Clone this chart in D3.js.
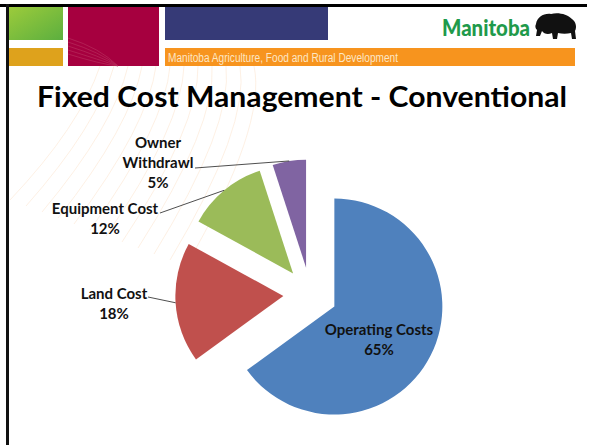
<!DOCTYPE html>
<html><head><meta charset="utf-8">
<script src="https://cdn.jsdelivr.net/npm/d3@7"></script>
<style>html,body{margin:0;padding:0;background:#fff;overflow:hidden}svg{display:block}</style>
</head><body>
<svg id="c" width="592" height="445"></svg>
<script>
const categories = ["Operating Costs", "Land Cost", "Equipment Cost", "Owner Withdrawl"];
const values = [65, 18, 12, 5];
const valueLabels = ["65%", "18%", "12%", "5%"];
const colors = ["#4f81bd", "#c0504d", "#9bbb59", "#8064a2"];

const svg = d3.select("#c");
const W = 592, H = 445;

// ---- background decoration (faint fan curves) ----
const deco = svg.append("g").attr("fill","none").attr("stroke","#fce8d6").attr("stroke-width",0.9);
for (let i = 0; i < 12; i++) {
  const sx = 100 + i * 14, sy = 66;
  const ex = 10 + i * 16, ey = 140 + i * 6;
  deco.append("path").attr("d", `M${sx},${sy} Q${sx - 20 + i*3},${sy + 60} ${ex},${ey + 60}`).attr("opacity",0.75);
}

// ---- header ----
const hdr = svg.append("g");
const gg = svg.append("defs").append("linearGradient").attr("id","gr").attr("x1","0").attr("x2","1").attr("y1","0").attr("y2","1");
gg.append("stop").attr("offset","0").attr("stop-color","#9ccb3b");
gg.append("stop").attr("offset","1").attr("stop-color","#5caf3f");
hdr.append("rect").attr("x",9).attr("y",7).attr("width",54).attr("height",33).attr("fill","url(#gr)");
hdr.append("rect").attr("x",9).attr("y",48).attr("width",54).attr("height",18).attr("fill","#dea21c");
hdr.append("rect").attr("x",68).attr("y",7).attr("width",91).attr("height",59).attr("fill","#a6003f");
const st = hdr.append("g").attr("stroke","#c0406a").attr("stroke-width",0.8).attr("fill","none").attr("opacity",0.6);
for (let i = 0; i < 5; i++) st.append("path").attr("d", `M68,${38 + i*4} Q100,${48 + i*4} 118,66`);
hdr.append("rect").attr("x",165).attr("y",7).attr("width",163).attr("height",33).attr("fill","#363a77");
hdr.append("rect").attr("x",165).attr("y",48).attr("width",410).attr("height",18).attr("fill","#f7941e");
hdr.append("text").attr("x",168).attr("y",61.5).attr("font-family","'Liberation Sans Narrow','Liberation Sans',sans-serif")
  .attr("font-size",12).attr("fill","#fde6c4").attr("textLength",230).attr("lengthAdjust","spacingAndGlyphs")
  .text("Manitoba Agriculture, Food and Rural Development");
hdr.append("text").attr("x",442).attr("y",36).attr("font-family","Lato, sans-serif").attr("font-weight","900")
  .attr("font-size",22).attr("fill","#1f9a4b").attr("textLength",88).attr("lengthAdjust","spacingAndGlyphs").text("Manitoba");
// bison silhouette
hdr.append("path").attr("fill","#111")
  .attr("d","M536,24 C537,17 544,13 551,14 C558,12 567,14 572,19 C576,22 577,27 575,31 L576,39 L572,39 L571,33 C567,34 562,34 558,33 L557,39 L553,39 L552,33 C548,35 544,34 542,31 L540,36 L536,36 L537,30 C535,28 535,26 536,24 Z");

// border
svg.append("rect").attr("x",0).attr("y",4).attr("width",587).attr("height",3).attr("fill","#000");
svg.append("rect").attr("x",6).attr("y",4).attr("width",3).attr("height",H).attr("fill","#111");

// ---- title ----
svg.append("text").attr("x",37).attr("y",107).attr("font-family","Lato, 'Open Sans', sans-serif").attr("font-weight","bold")
  .attr("font-size",28).attr("fill","#000").attr("textLength",530).attr("lengthAdjust","spacingAndGlyphs")
  .text("Fixed Cost Management - Conventional");

// ---- pie ----
const cx = 310.3, cy = 294.3, R = 108, explode = 27;
const pie = d3.pie().sort(null).value(d => d)(values);
const arc = d3.arc().innerRadius(0).outerRadius(R);
const g = svg.append("g").attr("transform",`translate(${cx},${cy})`);
const off = d => { const a = (d.startAngle + d.endAngle)/2; return [Math.sin(a)*explode, -Math.cos(a)*explode]; };
g.selectAll("path.slice").data(pie).join("path").attr("class","slice")
  .attr("transform", d => `translate(${off(d)})`)
  .attr("d", arc).attr("fill", (d,i) => colors[i]);

// label layout (text anchor positions on page)
const labelLayout = [
  {lines:["Operating Costs"], x:379, y:335, inside:true},
  {lines:["Land Cost"], x:114, y:299, lx:148, ly:297},
  {lines:["Equipment Cost"], x:105, y:214, lx:160, ly:213},
  {lines:["Owner","Withdrawl"], x:158, y:148, lx:195, ly:168}
];
const fontF = "Lato, 'Open Sans', sans-serif";
const lblG = svg.append("g").attr("font-family",fontF).attr("font-weight","bold").attr("font-size",15).attr("fill","#111").attr("text-anchor","middle");
pie.forEach((d,i) => {
  const L = labelLayout[i];
  const lines = L.lines.concat([valueLabels[i]]);
  lines.forEach((t,k) => lblG.append("text").attr("x",L.x).attr("y",L.y + k*20).text(t));
  if (!L.inside) {
    const a = (d.startAngle + d.endAngle)/2;
    const o = off(d);
    const px = cx + o[0] + Math.sin(a)*R, py = cy + o[1] - Math.cos(a)*R;
    svg.append("line").attr("x1",L.lx).attr("y1",L.ly).attr("x2",px).attr("y2",py)
      .attr("stroke","#222").attr("stroke-width",0.8);
  }
});
</script>
</body></html>
